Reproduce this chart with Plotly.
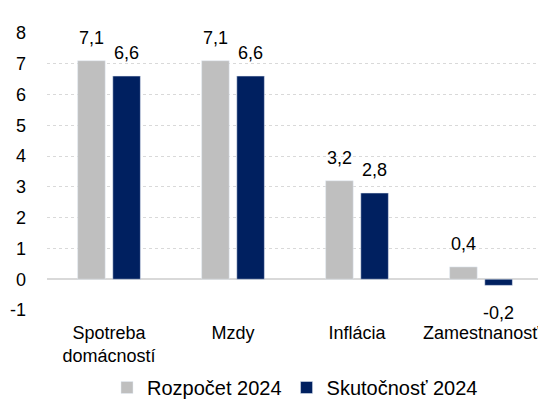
import plotly.graph_objects as go

categories = ["Spotreba<br>domácností", "Mzdy", "Inflácia", "Zamestnanosť"]
rozpocet = [7.1, 7.1, 3.2, 0.4]
skutocnost = [6.6, 6.6, 2.8, -0.2]
series_names = ["Rozpočet 2024", "Skutočnosť 2024"]
tick_vals = [-1, 0, 1, 2, 3, 4, 5, 6, 7, 8]
tick_text = ["-1", "0", "1", "2", "3", "4", "5", "6", "7", "8"]

font_family = "Liberation Sans, Arial, sans-serif"

def fmt(v):
    return f"{v:.1f}".replace(".", ",")

fig = go.Figure()
fig.add_trace(go.Bar(x=categories, y=rozpocet, name=series_names[0],
                     marker_color="#BFBFBF"))
fig.add_trace(go.Bar(x=categories, y=skutocnost, name=series_names[1],
                     marker_color="#002060"))

# data labels
offsets = [-17.5, 17.5]
for series, dx in zip([rozpocet, skutocnost], offsets):
    for c, v in zip(categories, series):
        fig.add_annotation(x=c, y=v, xref="x", yref="y", text=fmt(v),
                           showarrow=False, xshift=dx,
                           yanchor="bottom" if v >= 0 else "top",
                           yshift=11 if v >= 0 else -16,
                           font=dict(size=18, color="#000000", family=font_family))

fig.update_layout(
    width=538, height=399,
    margin=dict(l=39, r=3, t=25, b=97),
    paper_bgcolor="white", plot_bgcolor="white",
    barmode="group", bargap=0.433, bargroupgap=0.216,
    font=dict(family=font_family, size=17, color="#000000"),
    showlegend=True,
    legend=dict(orientation="h", x=0.5, xanchor="center", y=0.0, yanchor="bottom",
                yref="container", font=dict(size=20), traceorder="normal",
                tracegroupgap=0, borderwidth=0),
)
fig.update_yaxes(range=[-1, 8], tickvals=tick_vals, ticktext=tick_text, showgrid=True,
                 gridcolor="#D9D9D9", griddash="dot", gridwidth=1,
                 zeroline=True, zerolinecolor="#D9D9D9", zerolinewidth=2,
                 ticks="", showline=False, tickfont=dict(size=18),
                 ticklabelstandoff=20, automargin=False)
fig.update_xaxes(showgrid=False, showline=False, ticks="", tickfont=dict(size=18),
                 ticklabelstandoff=10, automargin=False)

fig.write_html("out.html")
